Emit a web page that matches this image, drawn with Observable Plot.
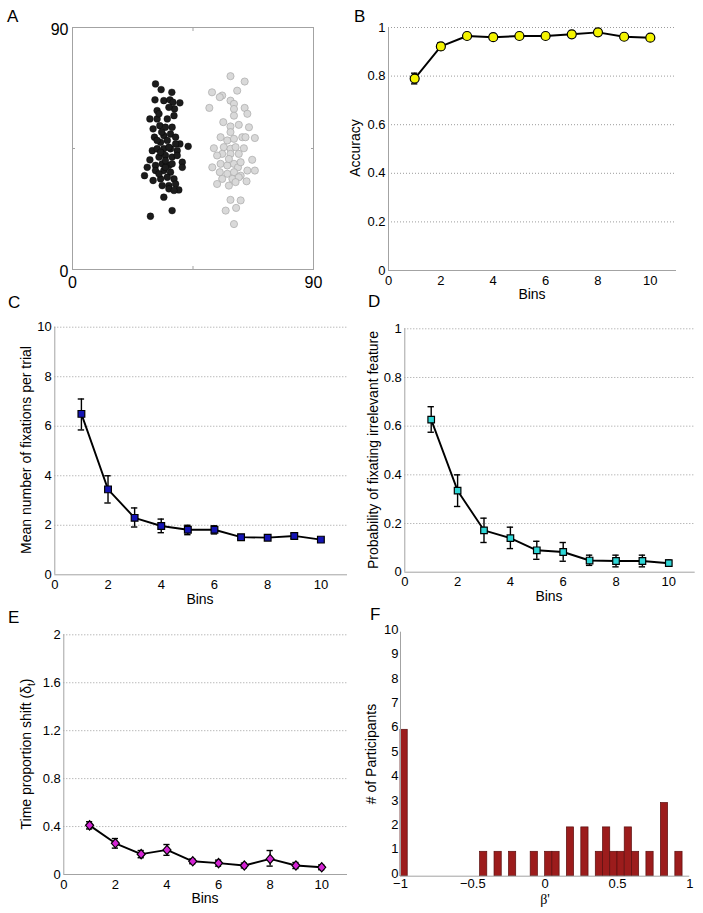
<!DOCTYPE html>
<html><head><meta charset="utf-8">
<script src="https://cdn.jsdelivr.net/npm/d3@7"></script>
<script src="https://cdn.jsdelivr.net/npm/@observablehq/plot@0.6"></script>
<style>
body{margin:0;background:#fff;}
#fig{position:relative;width:703px;height:913px;font-family:"Liberation Sans",Arial,sans-serif;}
#fig > svg{position:absolute;overflow:visible;}
</style></head><body><div id="fig"></div>
<script>
// ---------- Panel A data (x, y in 0..90) ----------
const blackX = [31.0,33.1,37.1,30.8,34.1,36.4,37.5,40.1,31.6,38.1,28.9,31.6,35.4,37.9,30.1,32.6,34.7,37.2,30.6,34.1,36.6,38.5,32.9,35.4,40.1,43.2,29.8,31.6,34.1,36.6,39.1,28.9,32.3,34.7,37.2,39.1,27.9,31.0,33.5,36.0,41.0,41.0,26.9,31.0,34.1,36.6,30.1,32.9,35.4,37.9,33.5,36.0,38.5,39.7,34.1,37.2,29.1,31.6,33.3,36.0,34.7,37.2,32.3,36.0,37.9,34.7,32.9,38.5,32.3,36.0];
const blackY = [69.0,66.9,65.9,63.1,62.8,63.1,62.2,62.0,59.1,59.7,56.0,56.0,56.0,57.2,52.3,53.5,52.9,52.9,49.2,49.8,50.4,49.2,47.3,48.0,46.7,45.8,44.2,44.9,44.9,44.9,44.2,40.8,41.8,42.4,41.8,42.4,38.0,38.7,39.3,38.7,39.9,38.0,34.9,36.8,36.8,36.2,33.1,33.7,34.3,33.7,31.2,31.2,31.8,29.6,26.9,21.9,19.8,48.0,51.1,45.5,38.0,39.3,35.6,30.0,29.4,40.5,43.6,46.7,57.9,60.3];
const grayX = [59.0,64.3,52.1,55.9,61.5,55.0,59.0,60.3,51.1,60.3,64.3,65.3,60.3,56.3,62.1,59.0,65.9,55.3,59.0,57.8,60.3,63.4,64.6,68.1,52.8,56.5,59.0,60.9,64.0,55.9,59.0,62.1,67.1,52.2,55.3,57.8,60.3,61.8,65.3,68.1,55.0,57.8,60.3,62.8,55.9,59.7,62.1,54.0,58.4,60.9,65.0,59.0,62.8,57.2,61.1,60.3,54.0,62.8,58.4];
const grayY = [71.9,69.9,65.9,64.7,66.5,64.1,62.8,61.6,60.1,59.7,60.1,57.9,57.2,54.8,53.8,53.2,52.9,49.2,51.1,48.0,48.6,49.2,49.2,48.9,45.1,45.5,44.9,45.5,45.1,43.0,43.0,43.0,40.8,38.0,39.3,38.7,39.3,38.0,36.8,36.8,36.2,35.6,36.2,34.9,33.7,33.7,34.3,31.8,31.2,32.5,32.8,25.9,25.7,21.9,22.9,16.9,42.4,39.9,41.1];
const axisATicks = [0, 90];

// ---------- Line panels ----------
const bins = [1,2,3,4,5,6,7,8,9,10];
const binTicks = [0,2,4,6,8,10];

const accuracy   = [0.79,0.922,0.965,0.96,0.965,0.965,0.972,0.98,0.962,0.958];
const accuracyLo = [0.768,0.907,0.958,0.954,0.959,0.959,0.966,0.974,0.956,0.952];
const accuracyHi = [0.812,0.937,0.972,0.966,0.971,0.971,0.978,0.986,0.968,0.964];
const accuracyTicks = [0,0.2,0.4,0.6,0.8,1];

const fixations   = [6.5,3.45,2.3,1.97,1.82,1.82,1.52,1.5,1.57,1.42];
const fixationsLo = [5.85,2.9,1.93,1.7,1.62,1.65,1.45,1.43,1.47,1.37];
const fixationsHi = [7.1,4.0,2.7,2.25,2.0,1.98,1.6,1.58,1.67,1.47];
const fixationTicks = [0,2,4,6,8,10];

const irrelevant   = [0.627,0.335,0.172,0.14,0.09,0.083,0.048,0.046,0.046,0.037];
const irrelevantLo = [0.575,0.27,0.122,0.097,0.053,0.045,0.028,0.022,0.022,0.025];
const irrelevantHi = [0.68,0.40,0.222,0.185,0.127,0.122,0.07,0.07,0.07,0.05];
const irrelevantTicks = [0,0.2,0.4,0.6,0.8,1];

const shift   = [0.41,0.26,0.17,0.205,0.11,0.095,0.075,0.13,0.075,0.06];
const shiftLo = [0.38,0.22,0.14,0.16,0.09,0.07,0.055,0.07,0.05,0.04];
const shiftHi = [0.44,0.30,0.20,0.25,0.13,0.12,0.095,0.20,0.10,0.08];
const shiftTicks = [0,0.4,0.8,1.2,1.6,2];

// ---------- Histogram (panel F) ----------
const betaBinStart = [-1,-0.45,-0.35,-0.25,-0.10,0.00,0.05,0.15,0.25,0.35,0.40,0.45,0.50,0.55,0.60,0.70,0.80,0.90];
const betaCounts   = [6,1,1,1,1,1,1,2,2,1,2,1,1,2,1,1,3,1];
const betaBinWidth = 0.05;
const betaTicks = [-1,-0.5,0,0.5,1];
const countTicks = [0,1,2,3,4,5,6,7,8,9,10];

const FONT = '"Liberation Sans", Arial, Helvetica, sans-serif';
const AXIS = "#a3a3a3";
const TICK_FS = 13;
const TITLE_FS = 14;
const fig = document.getElementById("fig");
const fmt = d => String(d).replace("-", "\u2212");

function place(svg, left, top) {
  svg.style.left = left + "px";
  svg.style.top = top + "px";
  fig.appendChild(svg);
}

// Panel A
const blackPts = blackX.map((x, i) => ({x, y: blackY[i]}));
const grayPts = grayX.map((x, i) => ({x, y: grayY[i]}));
place(Plot.plot({
  width: 340, height: 300, marginLeft: 72, marginRight: 27, marginTop: 27, marginBottom: 31,
  style: {fontFamily: FONT, fontSize: "16px", color: "#000", background: "transparent", overflow: "visible"},
  x: {domain: [0, 90]}, y: {domain: [0, 90]},
  marks: [
    Plot.frame({stroke: AXIS}),
    Plot.axisX([45], {anchor: "bottom", tickSize: -3, tickFormat: () => "", stroke: AXIS, label: null}),
    Plot.axisX([45], {anchor: "top", tickSize: -3, tickFormat: () => "", stroke: AXIS, label: null}),
    Plot.axisY([45], {anchor: "left", tickSize: -3, tickFormat: () => "", stroke: AXIS, label: null}),
    Plot.axisY([45], {anchor: "right", tickSize: -3, tickFormat: () => "", stroke: AXIS, label: null}),
    Plot.axisX(axisATicks, {anchor: "bottom", tickSize: 0, tickPadding: 7, fontSize: 16, label: null, tickFormat: fmt}),
    Plot.axisY(axisATicks, {anchor: "left", tickSize: 0, tickPadding: 4, dy: 2.5, fontSize: 16, label: null, tickFormat: fmt}),
    Plot.dot(blackPts, {x: "x", y: "y", r: 3.4, fill: "#1c1c1c", stroke: "#000", strokeWidth: 0.4}),
    Plot.dot(grayPts, {x: "x", y: "y", r: 3.6, fill: "#d9d9d9", stroke: "#a9a9a9", strokeWidth: 0.7})
  ]
}), 0, 0);

const diamond = {
  draw(ctx, size) {
    const s = Math.sqrt(size) * 0.58;
    ctx.moveTo(0, -s * 1.15); ctx.lineTo(s, 0); ctx.lineTo(0, s * 1.15); ctx.lineTo(-s, 0); ctx.closePath();
  }
};

function linePanel(o) {
  const data = bins.map((x, i) => ({x, y: o.y[i], lo: o.lo[i], hi: o.hi[i]}));
  return Plot.plot({
    width: o.w, height: o.h, marginLeft: o.ml, marginRight: o.mr, marginTop: o.mt, marginBottom: o.mb,
    style: {fontFamily: FONT, fontSize: TICK_FS + "px", color: "#000", background: "transparent", overflow: "visible"},
    x: {domain: [0, 11]}, y: {domain: [0, o.ticks[o.ticks.length - 1]]},
    marks: [
      Plot.gridY(o.ticks.filter(t => t !== 0), {stroke: "#9c9c9c", strokeOpacity: 1, strokeWidth: 1, strokeDasharray: "1,2"}),
      Plot.ruleY([0], {stroke: AXIS}),
      Plot.ruleX([0], {stroke: AXIS}),
      Plot.axisX(binTicks, {tickSize: 0, tickPadding: 5, fontSize: TICK_FS, label: null, tickFormat: fmt}),
      Plot.axisY(o.ticks, {tickSize: 0, tickPadding: 3, fontSize: TICK_FS, label: null, tickFormat: fmt}),
      Plot.ruleX(data, {x: "x", y1: "lo", y2: "hi", stroke: "#000", strokeWidth: 1.4}),
      Plot.ruleY(data, {y: "lo", x1: d => d.x - 0.12, x2: d => d.x + 0.12, stroke: "#000", strokeWidth: 1.4}),
      Plot.ruleY(data, {y: "hi", x1: d => d.x - 0.12, x2: d => d.x + 0.12, stroke: "#000", strokeWidth: 1.4}),
      Plot.line(data, {x: "x", y: "y", stroke: "#000", strokeWidth: 1.9}),
      Plot.dot(data, {x: "x", y: "y", symbol: o.symbol, r: o.r, fill: o.fill, stroke: "#000", strokeWidth: 1.2})
    ]
  });
}

// Panel B
place(linePanel({y: accuracy, lo: accuracyLo, hi: accuracyHi, ticks: accuracyTicks, symbol: "circle", r: 4.5, fill: "#f4f400",
  w: 363, h: 305, ml: 48, mr: 27, mt: 27, mb: 35}), 340, 0);
// Panel C
place(linePanel({y: fixations, lo: fixationsLo, hi: fixationsHi, ticks: fixationTicks, symbol: "square", r: 3.8, fill: "#1414b4",
  w: 350, h: 300, ml: 54.3, mr: 3, mt: 26.7, mb: 25.7}), 0, 300);
// Panel D
place(linePanel({y: irrelevant, lo: irrelevantLo, hi: irrelevantHi, ticks: irrelevantTicks, symbol: "square", r: 3.7, fill: "#2fd6d6",
  w: 353, h: 300, ml: 54.3, mr: 8.3, mt: 28.3, mb: 28.3}), 350, 300);
// Panel E
place(linePanel({y: shift, lo: shiftLo, hi: shiftHi, ticks: shiftTicks, symbol: diamond, r: 3.9, fill: "#d424d4",
  w: 350, h: 300, ml: 63.3, mr: 3, mt: 29.3, mb: 31}), 0, 605);

// Panel F
const hist = betaBinStart.map((x1, i) => ({x1, x2: x1 + betaBinWidth, count: betaCounts[i]}));
place(Plot.plot({
  width: 353, height: 300, marginLeft: 50, marginRight: 13.7, marginTop: 26.7, marginBottom: 29.3,
  style: {fontFamily: FONT, fontSize: TICK_FS + "px", color: "#000", background: "transparent", overflow: "visible"},
  x: {domain: [-1, 1]}, y: {domain: [0, 10]},
  marks: [
    Plot.rect(hist, {x1: "x1", x2: "x2", y1: d => 0, y2: "count", fill: "#9c1c1c", stroke: "#5a0e0e", strokeWidth: 0.7}),
    Plot.ruleY([0], {stroke: AXIS}),
    Plot.ruleX([-1], {stroke: AXIS}),
    Plot.axisX(betaTicks, {tickSize: 0, tickPadding: 3, fontSize: TICK_FS, label: null, tickFormat: fmt}),
    Plot.axisY(countTicks, {tickSize: 0, tickPadding: 2, dy: -2.5, fontSize: TICK_FS, label: null, tickFormat: fmt})
  ]
}), 350, 605);

// Overlay: panel letters and axis titles
const ns = "http://www.w3.org/2000/svg";
const ov = document.createElementNS(ns, "svg");
ov.setAttribute("width", 703); ov.setAttribute("height", 913);
ov.style.left = "0px"; ov.style.top = "0px"; ov.style.pointerEvents = "none";
ov.setAttribute("font-family", FONT);
function txt(s, x, y, opts = {}) {
  const t = document.createElementNS(ns, "text");
  t.setAttribute("x", x); t.setAttribute("y", y);
  t.setAttribute("font-size", opts.size || TITLE_FS);
  t.setAttribute("text-anchor", opts.anchor || "middle");
  if (opts.rotate) t.setAttribute("transform", `rotate(-90 ${x} ${y})`);
  if (opts.family) t.setAttribute("font-family", opts.family);
  if (typeof s === "string") t.textContent = s; else s(t);
  ov.appendChild(t);
}
const letters = [["A", 7, 22], ["B", 354, 22], ["C", 8, 308], ["D", 368, 307], ["E", 8, 623], ["F", 370, 620]];
letters.forEach(([s, x, y]) => txt(s, x, y, {size: 17, anchor: "start"}));
txt("Bins", 532, 299);
txt("Bins", 200, 604);
txt("Bins", 549, 601);
txt("Bins", 205, 903);
txt("\u03B2'", 545, 904, {family: '"Liberation Serif", "DejaVu Serif", serif'});
txt("Accuracy", 360, 148, {rotate: true});
txt("Mean number of fixations per trial", 31, 450, {rotate: true});
txt("Probability of fixating irrelevant feature", 378, 450, {rotate: true});
txt(t => {
  t.appendChild(document.createTextNode("Time proportion shift (\u03B4"));
  const sub = document.createElementNS(ns, "tspan");
  sub.setAttribute("font-size", 10); sub.setAttribute("dy", 4);
  sub.textContent = "t";
  t.appendChild(sub);
  const close = document.createElementNS(ns, "tspan");
  close.setAttribute("dy", -4);
  close.textContent = ")";
  t.appendChild(close);
}, 31, 754, {rotate: true});
txt("# of Participants", 376, 754, {rotate: true});
fig.appendChild(ov);
</script>
</body></html>
